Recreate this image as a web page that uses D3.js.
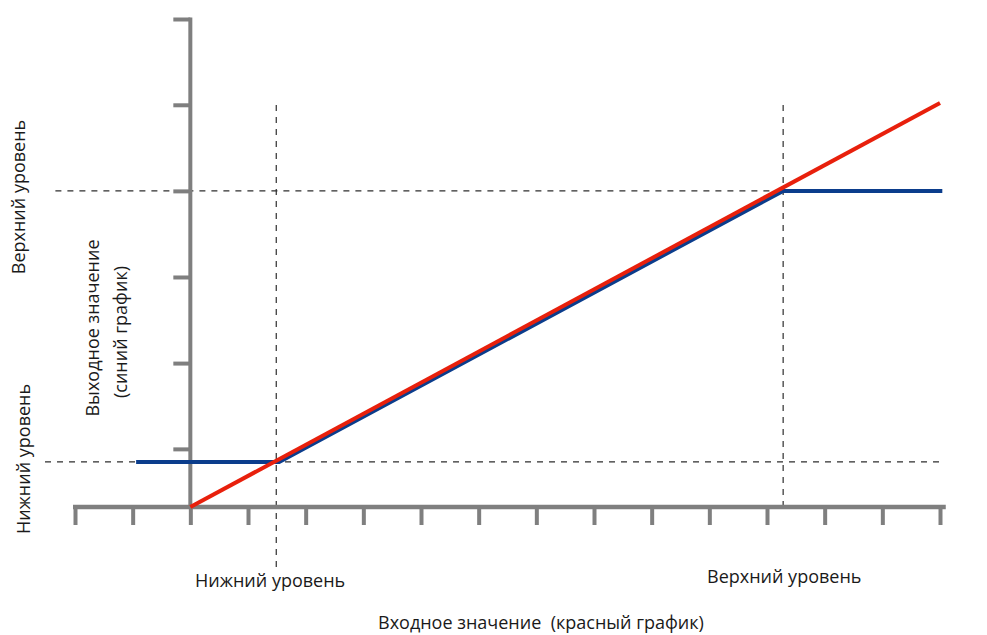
<!DOCTYPE html>
<html>
<head>
<meta charset="utf-8">
<script src="https://cdn.jsdelivr.net/npm/d3@7"></script>
<style>
  html, body { margin: 0; padding: 0; background: #fff; }
  svg { display: block; }
  text { font-family: "Open Sans", "Noto Sans", sans-serif; fill: #1a1a1a; white-space: pre; }
</style>
</head>
<body>
<svg id="chart" width="987" height="635"></svg>
<script>
// ---- data ----
const xTicks = [-2, -1, 0, 1, 2, 3, 4, 5, 6, 7, 8, 9, 10, 11, 12, 13];
const yTicks = [1.87, 4.63, 7.40, 10.17, 12.94, 15.70];
const xAxisExtent = [-2, 13.1];
const yAxisExtent = [0, 15.75];
// red: input value
const redX = [0, 13];
const redY = [0, 13];
// blue: output value (clamped)
const blueX = [-0.94, 1.54, 10.28, 13.04];
const blueY = [1.45, 1.45, 10.17, 10.17];
// guide lines: lower / upper level
const lowerLevel = 1.45, upperLevel = 10.17;
const lowerInput = 1.49, upperInput = 10.28;
const hGuides = [
  {y: lowerLevel, x0: -2.52, x1: 13.04},
  {y: upperLevel, x0: -2.34, x1: upperInput}
];
const vGuides = [
  {x: lowerInput, y0: 12.93, y1: -2.05},
  {x: upperInput, y0: 12.93, y1: 0.06}
];
const labels = {
  yUpper: "Верхний уровень",
  yLower: "Нижний уровень",
  yTitle1: "Выходное значение",
  yTitle2: "(синий график)",
  xLower: "Нижний уровень",
  xUpper: "Верхний уровень",
  xTitle: "Входное значение  (красный график)"
};

// ---- drawing ----
const svg = d3.select("#chart");
const x = d3.scaleLinear().domain([-2, 13]).range([75, 940]);
const y = d3.scaleLinear().domain([0, 15.7]).range([507, 19]);
const axisColor = "#7f7f7f";

// dashed guides
const g = svg.append("g").attr("stroke", "#2e2e2e").attr("stroke-width", 1.2).attr("stroke-dasharray", "6,6");
hGuides.forEach(d => g.append("line")
  .attr("x1", x(d.x0)).attr("x2", x(d.x1)).attr("y1", y(d.y)).attr("y2", y(d.y)));
vGuides.forEach(d => g.append("line")
  .attr("x1", x(d.x)).attr("x2", x(d.x)).attr("y1", y(d.y0)).attr("y2", y(d.y1)));

// x axis
const xAxisG = svg.append("g").attr("transform", `translate(0,${y(0)})`)
  .call(d3.axisBottom(x).tickValues(xTicks).tickSize(18).tickFormat(""));
xAxisG.select(".domain").remove();
xAxisG.selectAll(".tick line").attr("stroke", axisColor).attr("stroke-width", 4);
svg.append("line")
  .attr("x1", x(xAxisExtent[0]) - 2).attr("x2", x(xAxisExtent[1]))
  .attr("y1", y(0)).attr("y2", y(0))
  .attr("stroke", axisColor).attr("stroke-width", 4.5);

// y axis
const yAxisG = svg.append("g").attr("transform", `translate(${x(0)},0)`)
  .call(d3.axisLeft(y).tickValues(yTicks).tickSize(17).tickFormat(""));
yAxisG.select(".domain").remove();
yAxisG.selectAll(".tick line").attr("stroke", axisColor).attr("stroke-width", 4);
svg.append("line")
  .attr("x1", x(0)).attr("x2", x(0))
  .attr("y1", y(yAxisExtent[0]) + 2).attr("y2", y(yAxisExtent[1]))
  .attr("stroke", axisColor).attr("stroke-width", 4);

// series
const line = d3.line().x(d => x(d[0])).y(d => y(d[1]));
svg.append("path").datum(blueX.map((v, i) => [v, blueY[i]]))
  .attr("d", line).attr("fill", "none").attr("stroke", "#0b3d8c").attr("stroke-width", 4);
svg.append("path").datum(redX.map((v, i) => [v, redY[i]]))
  .attr("d", line).attr("fill", "none").attr("stroke", "#e8200c").attr("stroke-width", 4);

// labels
const fs = 18;
function rot(txt, cx, cy) {
  svg.append("text").attr("transform", `translate(${cx},${cy}) rotate(-90)`)
    .attr("text-anchor", "middle").attr("dominant-baseline", "central")
    .attr("font-size", fs).text(txt);
}
rot(labels.yUpper, 18, 197);
rot(labels.yLower, 23, 459);
rot(labels.yTitle1, 92, 328);
rot(labels.yTitle2, 120, 332);
svg.append("text").attr("x", 195).attr("y", 587).attr("font-size", fs).text(labels.xLower);
svg.append("text").attr("x", 707).attr("y", 583).attr("font-size", fs).text(labels.xUpper);
svg.append("text").attr("x", 378).attr("y", 629).attr("font-size", fs).text(labels.xTitle);
</script>
</body>
</html>
